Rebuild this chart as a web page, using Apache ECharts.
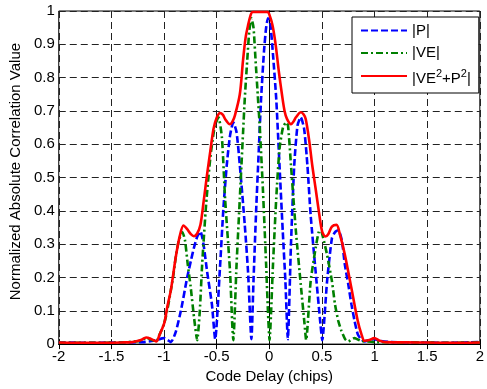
<!DOCTYPE html>
<html><head><meta charset="utf-8">
<script src="https://cdn.jsdelivr.net/npm/echarts@6/dist/echarts.min.js"></script>
<style>html,body{margin:0;padding:0;background:#fff}#c{width:487px;height:389px}</style>
</head><body><div id="c"></div>
<script>
// |P|
const pDelay = [-2,-1.7,-1.4,-1.2,-1.1,-1.0,-0.965,-0.935,-0.89,-0.84,-0.78,-0.745,-0.715,-0.685,-0.654,-0.625,-0.591,-0.545,-0.514,-0.467,-0.436,-0.404,-0.373,-0.342,-0.311,-0.28,-0.233,-0.202,-0.17,-0.15,-0.125,-0.1,-0.078,-0.05,-0.03,-0.012,0.01,0.035,0.066,0.097,0.128,0.153,0.176,0.206,0.237,0.268,0.299,0.331,0.362,0.393,0.44,0.486,0.503,0.549,0.595,0.625,0.655,0.69,0.717,0.75,0.78,0.81,0.84,0.87,0.905,0.95,0.995,1.05,1.15,1.4,1.7,2];
const pValue = [0.005,0.004,0.005,0.006,0.01,0.018,0.012,0.006,0.035,0.10,0.20,0.25,0.29,0.322,0.338,0.30,0.218,0.119,0.015,0.238,0.407,0.537,0.626,0.666,0.636,0.537,0.358,0.218,0.015,0.19,0.40,0.58,0.736,0.88,0.95,0.978,0.96,0.87,0.736,0.537,0.338,0.189,0.015,0.30,0.537,0.656,0.681,0.646,0.537,0.387,0.218,0.06,0.012,0.189,0.318,0.336,0.342,0.31,0.24,0.18,0.12,0.07,0.03,0.015,0.008,0.012,0.015,0.01,0.006,0.005,0.004,0.006];
// |VE|
const veDelay = [-2,-1.7,-1.4,-1.22,-1.17,-1.11,-1.075,-1.04,-0.998,-0.97,-0.935,-0.91,-0.888,-0.86,-0.825,-0.80,-0.775,-0.747,-0.715,-0.685,-0.66,-0.638,-0.6,-0.56,-0.52,-0.483,-0.45,-0.42,-0.373,-0.352,-0.342,-0.311,-0.28,-0.249,-0.233,-0.21,-0.19,-0.17,-0.15,-0.13,-0.11,-0.09,-0.06,-0.03,-0.013,0.002,0.035,0.066,0.097,0.13,0.16,0.178,0.206,0.253,0.299,0.335,0.35,0.393,0.44,0.471,0.49,0.505,0.549,0.595,0.624,0.655,0.685,0.72,0.748,0.81,0.87,1.0,1.4,1.7,2];
const veValue = [0.004,0.004,0.005,0.01,0.019,0.012,0.008,0.03,0.063,0.10,0.162,0.21,0.262,0.31,0.336,0.31,0.24,0.172,0.08,0.012,0.10,0.238,0.42,0.56,0.65,0.681,0.62,0.437,0.218,0.06,0.012,0.238,0.437,0.636,0.736,0.85,0.94,0.978,0.95,0.85,0.75,0.65,0.46,0.238,0.1,0.012,0.238,0.437,0.586,0.65,0.666,0.656,0.537,0.338,0.179,0.06,0.012,0.189,0.288,0.338,0.34,0.328,0.268,0.189,0.12,0.07,0.04,0.015,0.008,0.018,0.01,0.006,0.005,0.004,0.005];
// |VE^2+P^2|
const envDelay = [-2,-1.7,-1.4,-1.3,-1.22,-1.17,-1.12,-1.075,-1.04,-0.998,-0.97,-0.935,-0.888,-0.85,-0.815,-0.78,-0.745,-0.716,-0.685,-0.654,-0.623,-0.592,-0.56,-0.53,-0.498,-0.467,-0.44,-0.42,-0.374,-0.35,-0.327,-0.28,-0.25,-0.225,-0.203,-0.175,-0.156,-0.015,0.0,0.03,0.06,0.09,0.12,0.145,0.168,0.206,0.23,0.253,0.30,0.325,0.346,0.377,0.408,0.44,0.471,0.502,0.533,0.56,0.595,0.639,0.67,0.717,0.779,0.84,0.875,0.904,0.95,0.997,1.05,1.1,1.4,1.7,2];
const envValue = [0.005,0.004,0.005,0.006,0.012,0.02,0.015,0.008,0.03,0.063,0.11,0.162,0.262,0.325,0.356,0.345,0.33,0.324,0.332,0.358,0.43,0.507,0.58,0.646,0.681,0.694,0.688,0.676,0.66,0.668,0.686,0.75,0.85,0.92,0.955,0.99,0.997,0.997,0.99,0.958,0.90,0.82,0.75,0.70,0.676,0.66,0.668,0.681,0.696,0.69,0.676,0.616,0.537,0.467,0.398,0.338,0.323,0.33,0.353,0.358,0.33,0.27,0.17,0.07,0.03,0.01,0.012,0.018,0.01,0.006,0.005,0.004,0.005];

const xTicks = {min: -2, max: 2, interval: 0.5};
const yTicks = {min: 0, max: 1, interval: 0.1};
const seriesNames = ['|P|', '|VE|', '|VE2+P2|'];

const zip = (xs, ys) => xs.map((x, i) => [x, ys[i]]);
const FONT = 'Liberation Sans, Arial, sans-serif';
const chart = echarts.init(document.getElementById('c'), null, {renderer: 'canvas'});
const gridLine = {show: true, lineStyle: {color: '#222', width: 1, type: [7, 4]}};
chart.setOption({
  animation: false,
  backgroundColor: '#fff',
  grid: {left: 56, right: 3, top: 11, bottom: 42, show: true, borderColor: '#000', borderWidth: 1, backgroundColor: '#fff'},
  legend: {
    orient: 'vertical', left: 352, top: 17,
    itemWidth: 46, itemHeight: 13, itemGap: 7.5,
    padding: [6, 8, 7, 8],
    borderColor: '#000', borderWidth: 1, backgroundColor: '#fff',
    itemStyle: {opacity: 0},
    textStyle: {
      fontSize: 15, color: '#000', fontFamily: FONT,
      rich: {
        t: {fontSize: 15, fontFamily: FONT, color: '#000', lineHeight: 20, verticalAlign: 'bottom'},
        s: {fontSize: 11, fontFamily: FONT, color: '#000', lineHeight: 20, verticalAlign: 'bottom', padding: [0, 0, 7, 0]}
      }
    },
    formatter: function (name) {
      if (name === seriesNames[2]) return '{t||VE}{s|2}{t|+P}{s|2}{t||}';
      return name;
    },
    data: seriesNames
  },
  xAxis: [{
    type: 'value', min: xTicks.min, max: xTicks.max, interval: xTicks.interval,
    name: 'Code Delay (chips)', nameLocation: 'middle', nameGap: 24,
    nameTextStyle: {fontSize: 15, color: '#000', fontFamily: FONT},
    axisLine: {show: true, lineStyle: {color: '#000', width: 1}},
    axisTick: {show: true, inside: true, length: 5, lineStyle: {color: '#000'}},
    axisLabel: {fontSize: 15, color: '#000', margin: 5, fontFamily: FONT},
    splitLine: gridLine
  }, {
    type: 'value', position: 'top', min: xTicks.min, max: xTicks.max, interval: xTicks.interval,
    axisLine: {show: true, lineStyle: {color: '#000'}},
    axisTick: {show: true, inside: true, length: 5, lineStyle: {color: '#000'}},
    axisLabel: {show: false}, splitLine: {show: false}
  }],
  yAxis: [{
    type: 'value', min: yTicks.min, max: yTicks.max, interval: yTicks.interval,
    name: 'Normalized Absolute Correlation Value', nameLocation: 'middle', nameGap: 34,
    nameTextStyle: {fontSize: 15, color: '#000', fontFamily: FONT, padding: [0, 0, 0, 12]},
    axisLine: {show: true, lineStyle: {color: '#000', width: 1}},
    axisTick: {show: true, inside: true, length: 5, lineStyle: {color: '#000'}},
    axisLabel: {fontSize: 15, color: '#000', margin: 4, fontFamily: FONT},
    splitLine: gridLine
  }, {
    type: 'value', position: 'right', min: yTicks.min, max: yTicks.max, interval: yTicks.interval,
    axisLine: {show: true, lineStyle: {color: '#000'}},
    axisTick: {show: true, inside: true, length: 5, lineStyle: {color: '#000'}},
    axisLabel: {show: false}, splitLine: {show: false}
  }],
  series: [
    {name: seriesNames[0], type: 'line', data: zip(pDelay, pValue), symbol: 'none', smooth: 0.2, clip: false,
     lineStyle: {color: '#0000ff', width: 2.6, type: [7, 3]}, itemStyle: {color: '#0000ff'}},
    {name: seriesNames[1], type: 'line', data: zip(veDelay, veValue), symbol: 'none', smooth: 0.2, clip: false,
     lineStyle: {color: '#008000', width: 2.6, type: [7, 3, 2, 3]}, itemStyle: {color: '#008000'}},
    {name: seriesNames[2], type: 'line', data: zip(envDelay, envValue), symbol: 'none', smooth: 0.3, clip: false,
     lineStyle: {color: '#ff0000', width: 2.6}, itemStyle: {color: '#ff0000'}}
  ]
});
</script></body></html>
